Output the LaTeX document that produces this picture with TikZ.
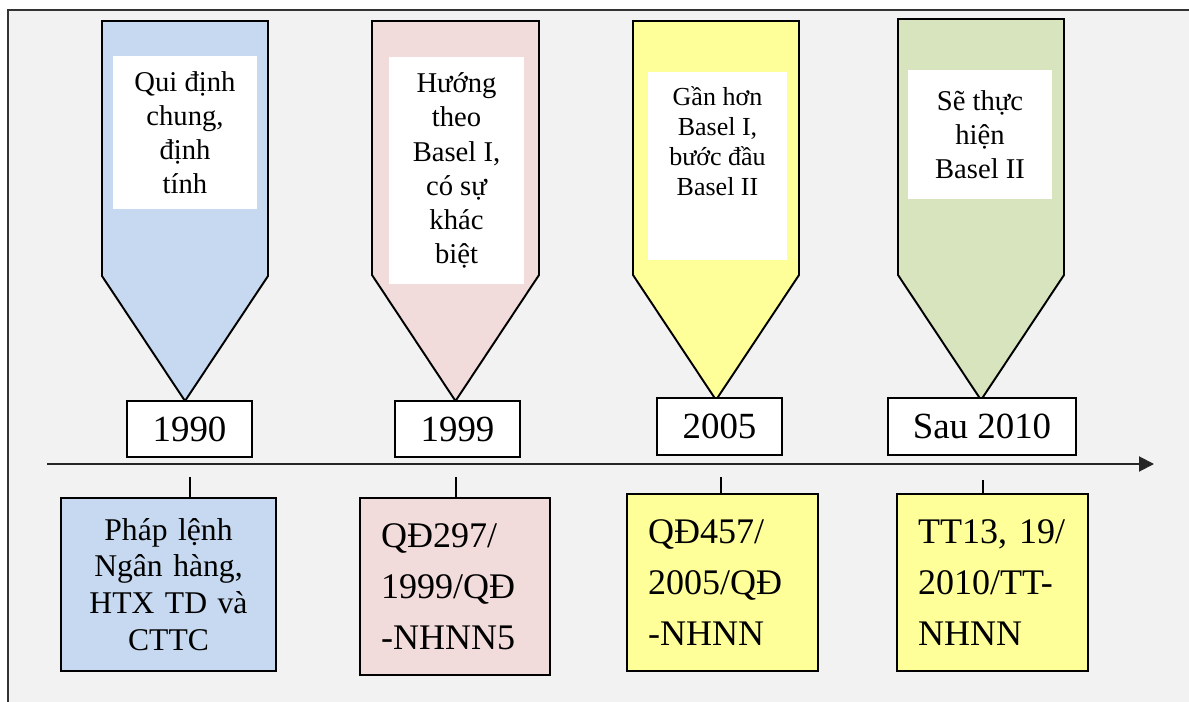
\documentclass[tikz,border=0pt]{standalone}
\usepackage{fontspec}
\setmainfont{Liberation Serif}
\usepackage{tikz}
\usetikzlibrary{arrows.meta, positioning}
\definecolor{panelgray}{HTML}{F2F2F2}
\definecolor{softblue}{HTML}{C6D9F1}
\definecolor{softpink}{HTML}{F2DCDB}
\definecolor{softyellow}{HTML}{FFFF99}
\definecolor{softgreen}{HTML}{D7E4BD}

\begin{document}
\begin{tikzpicture}[
    x=0.02cm, y=-0.02cm,
    callout/.style={
        draw=black,
        line width=1.1pt,
        line join=miter
    },
    note/.style={
        fill=white,
        inner sep=0pt,
        align=center,
        font=\fontsize{16.3}{19.4}\selectfont
    },
    yearbox/.style={
        draw=black,
        fill=white,
        line width=0.9pt,
        minimum width=2.5cm,
        minimum height=1.13cm,
        inner sep=0pt,
        font=\fontsize{21}{25}\selectfont
    },
    lawbox/.style={
        draw=black,
        line width=0.9pt,
        inner xsep=0.42cm,
        inner ysep=0pt,
        minimum height=3.54cm,
        text width=2.98cm,
        align=left,
        font=\fontsize{20.5}{29}\selectfont
    },
    tick/.style={line width=0.7pt},
    arrow/.style={line width=1.1pt, color=black!85, -{Triangle[length=0.3cm, width=0.3cm]}}
]
\useasboundingbox (0,0) rectangle (1189,702);

% panel
\fill[panelgray] (8,10) rectangle (1189,702);
\draw[line width=1.1pt, black!80] (1189,10) -- (8,10) -- (8,702);

% callouts
\draw[callout, fill=softblue] (102,21) -- (268,21) -- (268,276) -- (185,401) -- (102,276) -- cycle;
\draw[callout, fill=softpink] (372,21) -- (539,21) -- (539,275) -- (455.5,401) -- (372,275) -- cycle;
\draw[callout, fill=softyellow] (633,21) -- (799,21) -- (799,275) -- (716,400) -- (633,275) -- cycle;
\draw[callout, fill=softgreen] (898,19) -- (1064,19) -- (1064,275) -- (981,400) -- (898,275) -- cycle;

\node[note, minimum width=2.88cm, minimum height=3.06cm] (w1) at (185,132.5)
{Qui định\\chung,\\định\\tính};
\node[note, minimum width=2.7cm, minimum height=4.54cm] (w2) at (456.5,170.5)
{Hướng\\theo\\Basel I,\\có sự\\khác\\biệt};
\node[note, minimum width=2.78cm, minimum height=3.76cm] (w3) at (717.5,166) {};
\node[note, fill=none, font=\fontsize{14.8}{17}\selectfont, anchor=north] (t3) at ([yshift=-0.3cm]w3.north)
{Gần hơn\\Basel I,\\bước đầu\\Basel II};
\node[note, minimum width=2.88cm, minimum height=2.58cm] (w4) at (980,134.5)
{Sẽ thực\\hiện\\Basel II};

% years
\node[yearbox] (y1) at (189.5,429) {1990};
\node[yearbox] (y2) at (457.5,429) {1999};
\node[yearbox] (y3) at (719.5,426.5) {2005};
\node[yearbox, minimum width=3.76cm] (y4) at (982,426.5) {Sau 2010};

% axis
\coordinate (a0) at (47,464);
\coordinate (a1) at (1154,464);
\draw[arrow] (a0) -- (a1);

% documents
\node[lawbox, fill=softblue, text width=3.6cm, inner xsep=0.35cm, align=center,
      minimum height=3.46cm, font=\fontsize{18}{21}\selectfont] (b1) at (168.5,584.5)
{Pháp lệnh\\Ngân hàng,\\HTX TD và\\CTTC};
\node[lawbox, fill=softpink, text width=2.96cm] (b2) at (455,586.5)
{QĐ297/\\1999/QĐ\\-NHNN5};
\node[lawbox, fill=softyellow] (b3) at (722.5,582.5)
{QĐ457/\\2005/QĐ\\-NHNN};
\node[lawbox, fill=softyellow] (b4) at (992.5,582.5)
{TT13, 19/\\2010/TT-\\NHNN};

\coordinate (k1) at (190,477);
\coordinate (k2) at (456,477);
\coordinate (k3) at (721,477);
\coordinate (k4) at (983,480);
\draw[tick] (k1) -- (k1 |- b1.north);
\draw[tick] (k2) -- (k2 |- b2.north);
\draw[tick] (k3) -- (k3 |- b3.north);
\draw[tick] (k4) -- (k4 |- b4.north);

\end{tikzpicture}
\end{document}
